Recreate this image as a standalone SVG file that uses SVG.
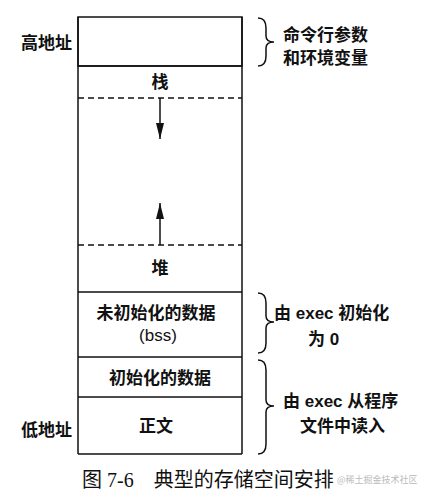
<svg xmlns="http://www.w3.org/2000/svg" width="439" height="498" viewBox="0 0 439 498">
<style>
.t{font-family:"Liberation Sans","Noto Sans CJK SC",sans-serif;font-size:17px;font-weight:bold;fill:#111}
.n{font-weight:normal}
.c{text-anchor:middle}
.box{fill:none;stroke:#111;stroke-width:1.5}
.ln{stroke:#111;stroke-width:1.5}
.dash{stroke:#111;stroke-width:1.5;stroke-dasharray:6,4}
.br{fill:none;stroke:#111;stroke-width:1.5}
.cap{font-family:"Liberation Serif","Noto Sans CJK SC",serif;font-size:20px;fill:#111}
.wm{font-family:"Noto Sans CJK SC",sans-serif;font-size:9px;fill:#bbb}
</style>
<defs>
<marker id="ah" viewBox="0 0 10 10" refX="10" refY="5" markerWidth="16" markerHeight="8" markerUnits="userSpaceOnUse" orient="auto" preserveAspectRatio="none">
<path d="M0,0 L10,5 L0,10 Z" fill="#111"/>
</marker>
</defs>
<rect width="439" height="498" fill="#fff"/>
<g id="memory">
<g id="args"><rect class="box" x="78" y="17" width="164" height="49"/></g>
<g id="stack"><line class="ln" x1="78" y1="66" x2="242" y2="66"/><text class="t c" x="160" y="88">栈</text></g>
<g id="gap"><line class="dash" x1="78" y1="98" x2="242" y2="98"/><line class="dash" x1="78" y1="245" x2="242" y2="245"/>
<line class="ln" x1="78" y1="17" x2="78" y2="454"/><line class="ln" x1="242" y1="17" x2="242" y2="454"/></g>
<g id="heap"><text class="t c" x="160" y="274">堆</text></g>
<g id="bss"><line class="ln" x1="78" y1="292" x2="242" y2="292"/><text class="t c" x="156" y="319">未初始化的数据</text><text class="t c n" x="158" y="341">(bss)</text></g>
<g id="data"><line class="ln" x1="78" y1="357" x2="242" y2="357"/><text class="t c" x="160" y="384">初始化的数据</text></g>
<g id="text"><line class="ln" x1="78" y1="397" x2="242" y2="397"/><text class="t c" x="156" y="432">正文</text><line class="ln" x1="78" y1="454" x2="242" y2="454"/></g>
</g>
<g id="connectors">
<line class="ln" x1="160" y1="98" x2="160" y2="139" marker-end="url(#ah)"/>
<line class="ln" x1="160" y1="245" x2="160" y2="203" marker-end="url(#ah)"/>
</g>
<g id="labels">
<text class="t" x="21" y="49">高地址</text>
<text class="t" x="21" y="436">低地址</text>
</g>
<g id="braces">
<path class="br" d="M258,18 Q266,18 266,28 L266,36 Q266,42 274,42 Q266,42 266,48 L266,56 Q266,66 258,66"/>
<path class="br" d="M258,293 Q266,293 266,303 L266,316 Q266,322 274,322 Q266,322 266,328 L266,343 Q266,353 258,353"/>
<path class="br" d="M258,360 Q266,360 266,370 L266,400 Q266,406 274,406 Q266,406 266,412 L266,444 Q266,454 258,454"/>
<text class="t" x="283" y="41">命令行参数</text>
<text class="t" x="283" y="64">和环境变量</text>
<text class="t" x="274" y="319">由 exec 初始化</text>
<text class="t" x="308" y="345">为 0</text>
<text class="t" x="283" y="407">由 exec 从程序</text>
<text class="t" x="300" y="432">文件中读入</text>
</g>
<text class="cap" x="82" y="487">图 7-6　典型的存储空间安排</text>
<text class="wm" x="337" y="483">@稀土掘金技术社区</text>
</svg>
